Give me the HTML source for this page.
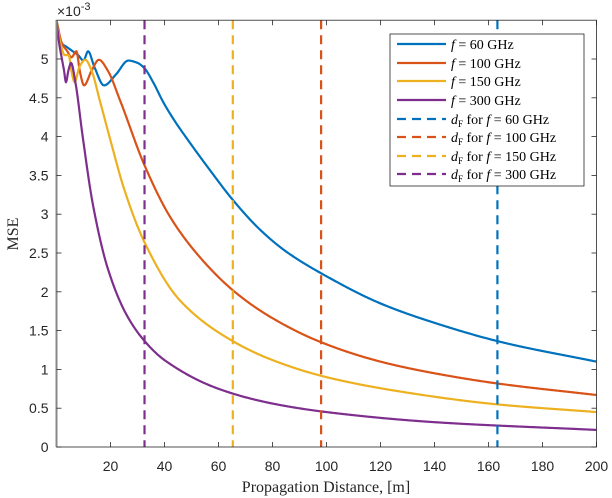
<!DOCTYPE html>
<html><head><meta charset="utf-8"><style>
body{margin:0;background:#fff}
svg{display:block;font-family:"Liberation Sans",sans-serif}
</style></head><body>
<svg id="c" width="612" height="498"></svg>
<script>
const xTicks=[20,40,60,80,100,120,140,160,180,200];
const yTicks=[0,0.5,1,1.5,2,2.5,3,3.5,4,4.5,5];
const seriesNames=["60","100","150","300"];
const colors=["#0072BD","#D95319","#EDB120","#7E2F8E"];
const farField=[163.3,98,65.3,32.6];
const xs60=[0,2,4,6,8,10,11.7,14,17.6,22,26.6,30,32.6,35.8,39.6,44,48.8,57,65.4,75.4,85,100,120,140,165,200];
const ys60=[5.5,5.2,5.15,5.1,5.05,4.98,5.1,4.9,4.66,4.8,4.98,4.95,4.88,4.7,4.44,4.19,3.95,3.56,3.18,2.8,2.52,2.2,1.85,1.6,1.35,1.1];
const xs100=[0,2,4,5.5,7.4,8.6,10.2,13,15.7,19,23.5,32.6,42,53,66,80,98,120,140,163,200];
const ys100=[5.5,5.2,5.1,5.02,5.1,4.85,4.66,4.85,4.99,4.85,4.47,3.63,2.97,2.45,2.0,1.66,1.35,1.1,0.95,0.82,0.67];
const xs150=[0,1.5,3,4.5,5.5,6.7,8.5,10.7,13,16,20,25,32.7,45.7,65,80,100,130,163,200];
const ys150=[5.5,5.2,5.05,5.05,4.85,4.7,4.9,4.99,4.85,4.47,3.95,3.33,2.63,1.89,1.37,1.12,0.9,0.7,0.55,0.45];
const xs300=[0,1,2,2.8,3.5,4.4,5.4,7,9.7,13.4,19,26,33,40,60,80,100,140,200];
const ys300=[5.5,5.2,5.0,4.85,4.7,4.85,4.95,4.7,4.0,3.14,2.3,1.7,1.35,1.12,0.75,0.56,0.45,0.32,0.22];
const XS=[xs60,xs100,xs150,xs300], YS=[ys60,ys100,ys150,ys300];

const L=56.5,R=596.5,T=20.2,B=447;
const sx=x=>L+(x-0)/200*(R-L);
const sy=y=>B-y/5.5*(B-T);
const svg=document.getElementById('c');
const NS='http://www.w3.org/2000/svg';
function mk(t,a,p){const e=document.createElementNS(NS,t);for(const k in a)e.setAttribute(k,a[k]);(p||svg).appendChild(e);return e;}

function monotone(xs,ys){
  const n=xs.length,d=[],m=[];
  for(let i=0;i<n-1;i++)d.push((ys[i+1]-ys[i])/(xs[i+1]-xs[i]));
  m[0]=d[0];m[n-1]=d[n-2];
  for(let i=1;i<n-1;i++){
    if(d[i-1]*d[i]<=0)m[i]=0;
    else{const h0=xs[i]-xs[i-1],h1=xs[i+1]-xs[i];const w1=2*h1+h0,w2=h1+2*h0;m[i]=(w1+w2)/(w1/d[i-1]+w2/d[i]);}
  }
  let pts=[];
  for(let i=0;i<n-1;i++){
    const h=xs[i+1]-xs[i],N=Math.max(4,Math.ceil(h*3));
    for(let k=0;k<N;k++){
      const t=k/N,t2=t*t,t3=t2*t;
      const y=(2*t3-3*t2+1)*ys[i]+(t3-2*t2+t)*h*m[i]+(-2*t3+3*t2)*ys[i+1]+(t3-t2)*h*m[i+1];
      pts.push(sx(xs[i]+t*h).toFixed(2)+','+sy(y).toFixed(2));
    }
  }
  pts.push(sx(xs[n-1])+','+sy(ys[n-1]));
  return pts.join(' ');
}
for(let s=0;s<4;s++){
  const p=mk('polyline',{points:monotone(XS[s],YS[s]),fill:'none',stroke:colors[s],'stroke-width':2.2,'stroke-linejoin':'round'});
  
  
}
for(let s=0;s<4;s++){
  const l=mk('line',{x1:sx(farField[s]),x2:sx(farField[s]),y1:T,y2:B,stroke:colors[s],'stroke-width':2.2,'stroke-dasharray':'9,6'});
  
  
}
const box=mk('rect',{x:L,y:T,width:R-L,height:B-T,fill:'none',stroke:'#262626','stroke-width':0.8});


const la=mk('line',{x1:L,x2:L,y1:T,y2:B,stroke:'#888','stroke-width':2});


xTicks.forEach(v=>{
  const x=sx(v);
  mk('line',{x1:x,x2:x,y1:B,y2:B-5,stroke:'#262626','stroke-width':0.8});
  mk('line',{x1:x,x2:x,y1:T,y2:T+5,stroke:'#262626','stroke-width':0.8});
  const t=mk('text',{x:x,y:B+24,'text-anchor':'middle','font-size':14,fill:'#262626'});
  t.textContent=v;
  
  
});
yTicks.forEach(v=>{
  const y=sy(v);
  mk('line',{x1:L,x2:L+5,y1:y,y2:y,stroke:'#262626','stroke-width':0.8});
  mk('line',{x1:R,x2:R-5,y1:y,y2:y,stroke:'#262626','stroke-width':0.8});
  const t=mk('text',{x:L-8,y:y+5,'text-anchor':'end','font-size':14,fill:'#262626'});
  t.textContent=v;
  
  
});
</script>
<svg style="position:absolute;left:0;top:0" width="612" height="498">
<text x="57" y="16" font-size="14" fill="#262626" font-family="Liberation Sans,sans-serif">×10<tspan dy="-6" font-size="11">-3</tspan></text>
<text x="326" y="492" text-anchor="middle" font-size="16" fill="#262626" font-family="Liberation Serif,serif">Propagation Distance, [m]</text>
<text transform="translate(18,234) rotate(-90)" text-anchor="middle" font-size="16" fill="#262626" font-family="Liberation Serif,serif">MSE</text>
<g font-family="Liberation Serif,serif" font-size="14" fill="#000">
<rect x="390" y="34" width="194" height="152" fill="#fff" stroke="#262626" stroke-width="0.8"/>
<line x1="397" x2="446" y1="44" y2="44" stroke="#0072BD" stroke-width="2.2"/><text x="451" y="49"><tspan font-style="italic">f</tspan> = 60 GHz</text>
<line x1="397" x2="446" y1="63" y2="63" stroke="#D95319" stroke-width="2.2"/><text x="451" y="68"><tspan font-style="italic">f</tspan> = 100 GHz</text>
<line x1="397" x2="446" y1="81" y2="81" stroke="#EDB120" stroke-width="2.2"/><text x="451" y="86"><tspan font-style="italic">f</tspan> = 150 GHz</text>
<line x1="397" x2="446" y1="100" y2="100" stroke="#7E2F8E" stroke-width="2.2"/><text x="451" y="105"><tspan font-style="italic">f</tspan> = 300 GHz</text>
<line x1="397" x2="446" y1="119" y2="119" stroke="#0072BD" stroke-width="2.2" stroke-dasharray="9,6"/><text x="451" y="124"><tspan font-style="italic">d</tspan><tspan font-size="9" dy="3">F</tspan><tspan dy="-3"> for </tspan><tspan font-style="italic">f</tspan> = 60 GHz</text>
<line x1="397" x2="446" y1="137" y2="137" stroke="#D95319" stroke-width="2.2" stroke-dasharray="9,6"/><text x="451" y="142"><tspan font-style="italic">d</tspan><tspan font-size="9" dy="3">F</tspan><tspan dy="-3"> for </tspan><tspan font-style="italic">f</tspan> = 100 GHz</text>
<line x1="397" x2="446" y1="156" y2="156" stroke="#EDB120" stroke-width="2.2" stroke-dasharray="9,6"/><text x="451" y="161"><tspan font-style="italic">d</tspan><tspan font-size="9" dy="3">F</tspan><tspan dy="-3"> for </tspan><tspan font-style="italic">f</tspan> = 150 GHz</text>
<line x1="397" x2="446" y1="174" y2="174" stroke="#7E2F8E" stroke-width="2.2" stroke-dasharray="9,6"/><text x="451" y="179"><tspan font-style="italic">d</tspan><tspan font-size="9" dy="3">F</tspan><tspan dy="-3"> for </tspan><tspan font-style="italic">f</tspan> = 300 GHz</text>
</g>
</svg>
</body></html>
